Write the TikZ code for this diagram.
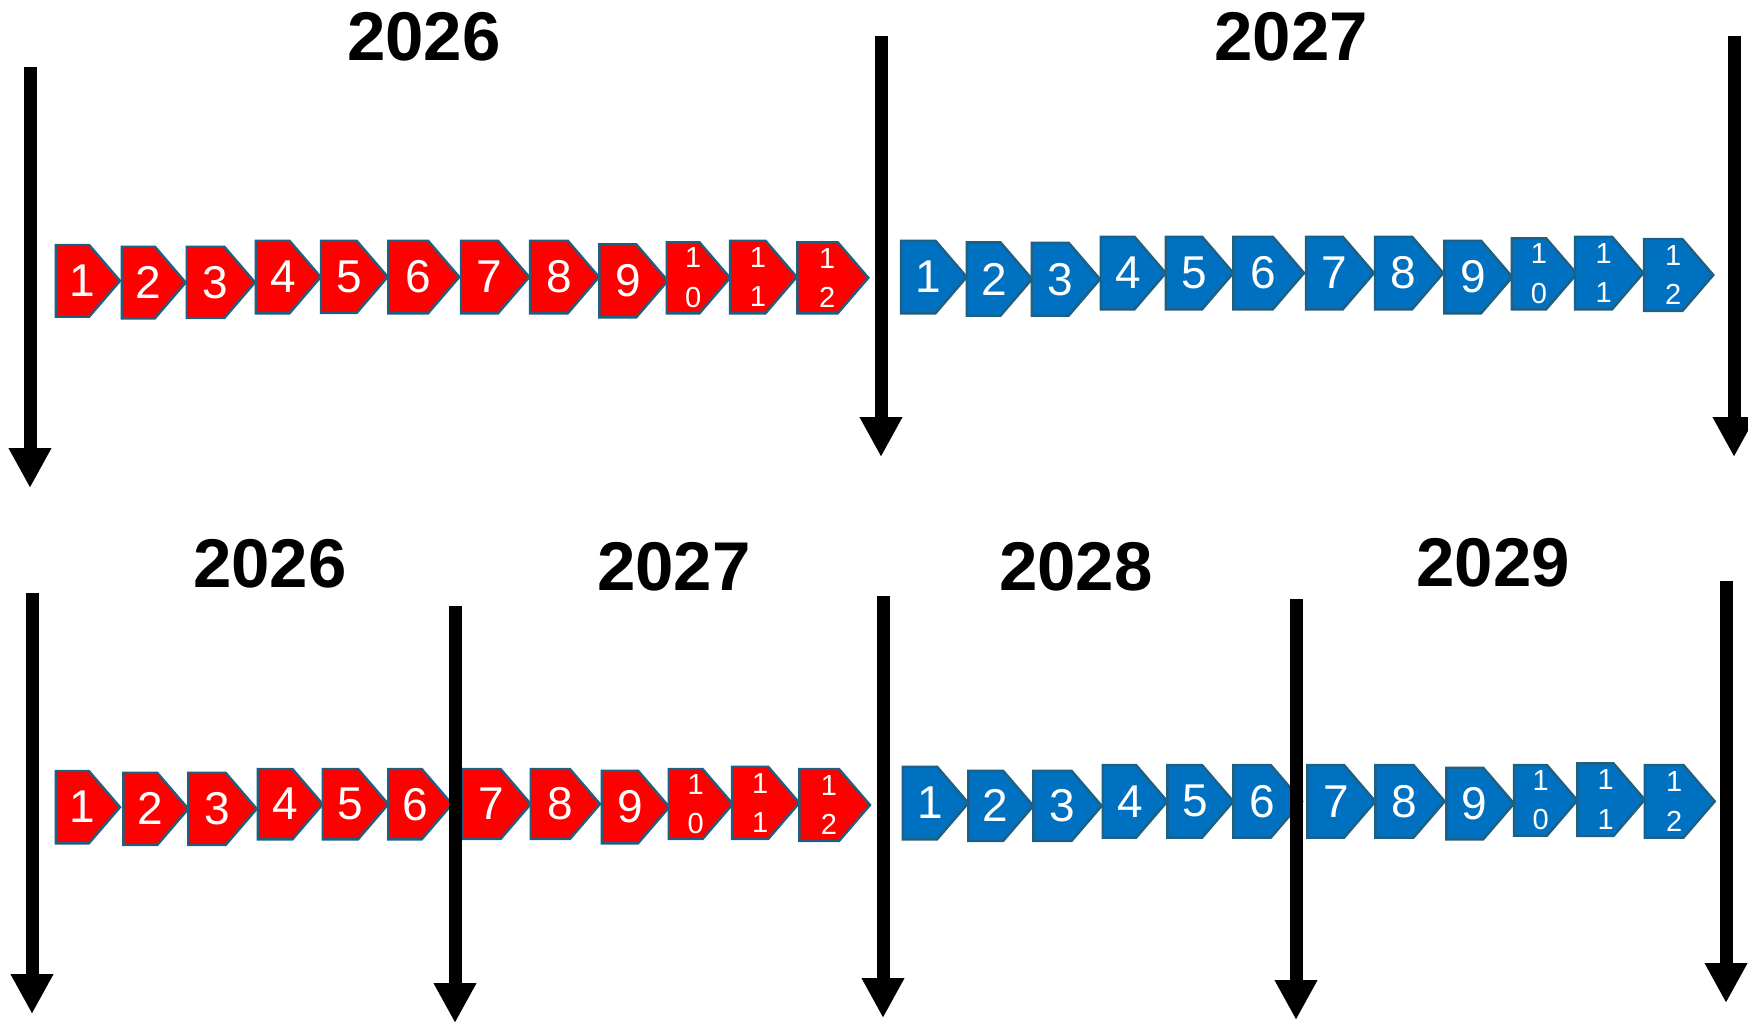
\documentclass[tikz,border=0pt]{standalone}
\usepackage{fontspec}
\setmainfont{Liberation Sans}
\usetikzlibrary{arrows.meta}
\definecolor{cred}{HTML}{FF0000}
\definecolor{cblue}{HTML}{0070C0}
\definecolor{cedge}{HTML}{1F6080}
\tikzset{
  chevbox/.style={line width=1.2pt, draw=cedge, line join=miter},
  digit/.style={text=white, inner sep=0pt, font=\fontsize{23}{27}\selectfont},
  ddigit/.style={text=white, inner sep=0pt, align=center, font=\fontsize{14.5}{19.7}\selectfont},
  year/.style={font=\bfseries\fontsize{34.5}{41}\selectfont, inner sep=0pt},
  bigarrow/.style={line width=6.5pt, -{Triangle[width=20pt,length=20pt]}}
}
% #1 name, #2 x1, #3 x2, #4 y1, #5 y2, #6 fill, #7 label style, #8 label
\newcommand\chevx[8]{%
  \pgfmathsetmacro\chpl{0.43*(#5-#4)}%
  \pgfmathsetmacro\chym{(#4+#5)/2}%
  \pgfmathsetmacro\chtx{#2+0.42*(#3-#2)}%
  \path[chevbox, fill=#6] (#2,#4) -- ({#3-\chpl},#4) -- (#3,\chym) -- ({#3-\chpl},#5) -- (#2,#5) -- cycle;
  \node[#7] (#1) at (\chtx,\chym) {#8};
}
\begin{document}
\begin{tikzpicture}[x=0.5pt,y=-0.5pt]
\useasboundingbox (0,0) rectangle (1748,1024);
\fill[white] (0,0) rectangle (1748,1024);

% ---- top row, red (2026)
\chevx{tr1}{55.7}{120}{245}{316.7}{cred}{digit}{1}
\chevx{tr2}{121.7}{185.7}{246.7}{318.3}{cred}{digit}{2}
\chevx{tr3}{186.7}{255}{246.7}{318}{cred}{digit}{3}
\chevx{tr4}{255.7}{320.7}{240.7}{313.3}{cred}{digit}{4}
\chevx{tr5}{321}{387.7}{240.7}{313}{cred}{digit}{5}
\chevx{tr6}{388.3}{459.3}{240.7}{313.3}{cred}{digit}{6}
\chevx{tr7}{461}{529.3}{240.7}{313.3}{cred}{digit}{7}
\chevx{tr8}{530}{599}{240.7}{313.3}{cred}{digit}{8}
\chevx{tr9}{599.3}{667.7}{244.3}{317.3}{cred}{digit}{9}
\chevx{tr10}{666.7}{730}{242.3}{313.3}{cred}{ddigit}{1\\0}
\chevx{tr11}{730}{796.7}{240.7}{313.3}{cred}{ddigit}{1\\1}
\chevx{tr12}{797.3}{868.3}{242.3}{313.3}{cred}{ddigit}{1\\2}

% ---- top row, blue (2027)
\chevx{tb1}{901}{966.7}{240.7}{313.3}{cblue}{digit}{1}
\chevx{tb2}{966.7}{1032}{242.3}{315.7}{cblue}{digit}{2}
\chevx{tb3}{1031.7}{1100}{242.7}{315.7}{cblue}{digit}{3}
\chevx{tb4}{1100.7}{1165.7}{236.7}{309.3}{cblue}{digit}{4}
\chevx{tb5}{1165.7}{1233.3}{236.7}{309.3}{cblue}{digit}{5}
\chevx{tb6}{1233.3}{1304}{236.7}{309.3}{cblue}{digit}{6}
\chevx{tb7}{1306}{1374}{236.7}{309.3}{cblue}{digit}{7}
\chevx{tb8}{1375}{1443.3}{236.7}{309.3}{cblue}{digit}{8}
\chevx{tb9}{1444.3}{1512.3}{240.7}{313.3}{cblue}{digit}{9}
\chevx{tb10}{1511.7}{1576.7}{238.3}{309.3}{cblue}{ddigit}{1\\0}
\chevx{tb11}{1575}{1643.3}{236.7}{309.3}{cblue}{ddigit}{1\\1}
\chevx{tb12}{1644}{1713.3}{239}{311}{cblue}{ddigit}{1\\2}

% ---- bottom row, red
\chevx{br1}{55.7}{120}{771}{843.3}{cred}{digit}{1}
\chevx{br2}{123.3}{188.3}{772.7}{845}{cred}{digit}{2}
\chevx{br3}{188.3}{256.7}{772.7}{845}{cred}{digit}{3}
\chevx{br4}{257.7}{322.7}{769}{839.3}{cred}{digit}{4}
\chevx{br5}{322.7}{388.3}{769}{839.3}{cred}{digit}{5}
\chevx{br6}{388.3}{452}{769}{839.3}{cred}{digit}{6}
\chevx{br7}{462.7}{530.7}{769}{839}{cred}{digit}{7}
\chevx{br8}{530.7}{600}{769}{839}{cred}{digit}{8}
\chevx{br9}{601.7}{669.3}{770.7}{843.3}{cred}{digit}{9}
\chevx{br10}{668.7}{732.7}{769}{839}{cred}{ddigit}{1\\0}
\chevx{br11}{732}{799.3}{766.7}{839}{cred}{ddigit}{1\\1}
\chevx{br12}{799.3}{870}{769}{841}{cred}{ddigit}{1\\2}

% ---- bottom row, blue
\chevx{bb1}{902.7}{968.3}{766.7}{839.3}{cblue}{digit}{1}
\chevx{bb2}{968.3}{1033.3}{770.7}{841}{cblue}{digit}{2}
\chevx{bb3}{1033.3}{1101.7}{770.7}{841}{cblue}{digit}{3}
\chevx{bb4}{1102.7}{1167.3}{765}{837.7}{cblue}{digit}{4}
\chevx{bb5}{1167.3}{1233.3}{765}{837.7}{cblue}{digit}{5}
\chevx{bb6}{1233.3}{1302}{765}{837.7}{cblue}{digit}{6}
\chevx{bb7}{1307.3}{1375.3}{765}{837.7}{cblue}{digit}{7}
\chevx{bb8}{1375.3}{1444.7}{765}{837.7}{cblue}{digit}{8}
\chevx{bb9}{1446.3}{1514}{767.7}{839.3}{cblue}{digit}{9}
\chevx{bb10}{1514}{1577.3}{765}{835.7}{cblue}{ddigit}{1\\0}
\chevx{bb11}{1577.3}{1644.7}{763.3}{836}{cblue}{ddigit}{1\\1}
\chevx{bb12}{1644.7}{1714.7}{765}{837.7}{cblue}{ddigit}{1\\2}

% ---- year titles
\node[year] (ty26) at (424,37) {2026};
\node[year] (ty27) at (1291,37) {2027};
\node[year] (by26) at (270,564) {2026};
\node[year] (by27) at (674,567) {2027};
\node[year] (by28) at (1076,567) {2028};
\node[year] (by29) at (1493,563) {2029};

% ---- arrows
\coordinate (a1s) at (30,67);    \coordinate (a1e) at (30,488);
\coordinate (a2s) at (881,36);   \coordinate (a2e) at (881,457);
\coordinate (a3s) at (1734,36);  \coordinate (a3e) at (1734,457);
\coordinate (b1s) at (32,593);   \coordinate (b1e) at (32,1014);
\coordinate (b2s) at (455,606);  \coordinate (b2e) at (455,1023);
\coordinate (b3s) at (883,596);  \coordinate (b3e) at (883,1018);
\coordinate (b4s) at (1296,599); \coordinate (b4e) at (1296,1020);
\coordinate (b5s) at (1726,581); \coordinate (b5e) at (1726,1003);
\foreach \a in {a1,a2,a3,b1,b2,b3,b4,b5}{
  \draw[bigarrow] (\a s) -- (\a e);
}
\end{tikzpicture}
\end{document}
